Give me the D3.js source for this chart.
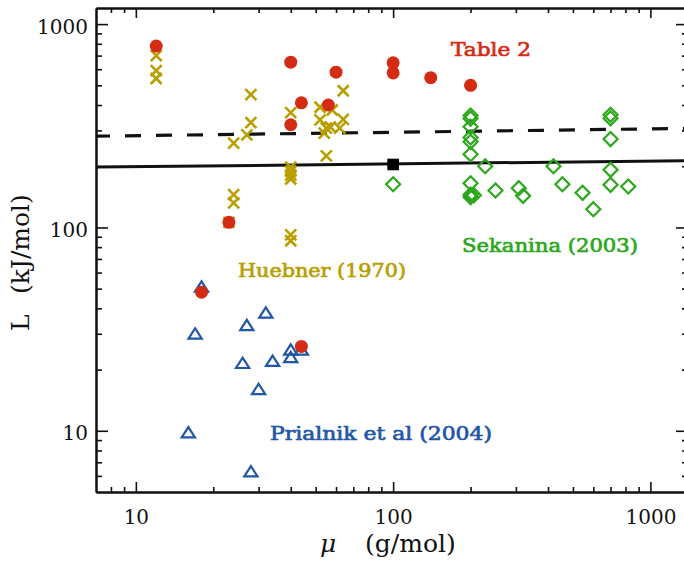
<!DOCTYPE html>
<html>
<head>
<meta charset="utf-8">
<script src="https://cdn.jsdelivr.net/npm/d3@7"></script>
<style>
body { margin: 0; background: #fff; }
svg { display: block; }
</style>
</head>
<body>
<svg id="chart" width="684" height="571"></svg>
<script>
// values: [mu (g/mol), L (kJ/mol)]
const table2 = [[12, 780], [18, 48], [23, 106], [40, 650], [40, 320], [44, 410], [44, 26],
    [56, 400], [60, 580], [100, 645], [100, 575], [140, 545], [200, 500]];

const huebner = [[12, 700], [12, 590], [12, 540], [23, 106], [24, 260], [24, 145], [24, 132],
    [27, 285], [28, 450], [28, 328], [40, 367], [40, 198], [40, 189], [40, 181], [40, 173],
    [40, 92], [40, 86], [52, 390], [52, 338], [54, 291], [55, 308], [55, 225], [57, 312],
    [58, 378], [62, 308], [64, 470], [64, 340]];

const sekanina = [[100, 163], [200, 355], [200, 343], [200, 313], [200, 277], [200, 264],
    [200, 229], [200, 165], [200, 145], [200, 141], [206, 144], [228, 200], [250, 152],
    [308, 156], [320, 143], [420, 200], [455, 163], [545, 148], [600, 123], [700, 358],
    [700, 344], [700, 272], [700, 192], [700, 162], [820, 159]];

const prialnik = [[16, 9.8], [17, 30], [18, 51], [26, 21.5], [27, 33], [28, 6.3], [30, 16],
    [32, 38], [34, 22], [40, 25], [40, 23], [44, 25]];

const solidLine = [[7, 198], [1400, 213]];
const dashedLine = [[7, 281], [1400, 307]];
const squarePoint = [[100, 204]];

const xMajor = [10, 100, 1000];
const xMinor = [8, 9, 20, 30, 40, 50, 60, 70, 80, 90, 200, 300, 400, 500, 600, 700, 800, 900];
const yMajor = [10, 100, 1000];
const yMinor = [6, 7, 8, 9, 20, 30, 40, 50, 60, 70, 80, 90, 200, 300, 400, 500, 600, 700, 800, 900];

const colors = { table2: "#d42c14", huebner: "#b99e00", sekanina: "#2ba81b", prialnik: "#1f56a6" };

const svg = d3.select("#chart");
const plotLeft = 96, plotRight = 688, plotTop = 8, plotBottom = 492;

const x = d3.scaleLog().domain([7, 1400]).range([plotLeft, plotRight]);
const y = d3.scaleLog().domain([5, 1200]).range([plotBottom, plotTop]);

// axes: major + minor ticks on all four sides, pointing inward
function styleAxis(g) {
    g.select(".domain").attr("stroke", "#111").attr("stroke-width", 2);
    g.selectAll(".tick line").attr("stroke", "#111").attr("stroke-width", 1.6);
    g.attr("font-family", "DejaVu Serif").attr("font-size", 20);
    g.selectAll(".tick text").attr("fill", "#111");
}

svg.append("g").attr("transform", `translate(0,${plotBottom})`)
    .call(d3.axisBottom(x).tickValues(xMinor).tickSizeInner(-5).tickSizeOuter(0).tickFormat(""))
    .call(styleAxis);
svg.append("g").attr("transform", `translate(0,${plotBottom})`)
    .call(d3.axisBottom(x).tickValues(xMajor).tickSizeInner(-10).tickSizeOuter(0).tickFormat(d3.format("d")))
    .call(styleAxis)
    .call(g => g.selectAll(".tick text").attr("y", 31.5).attr("dy", null));

svg.append("g").attr("transform", `translate(0,${plotTop})`)
    .call(d3.axisTop(x).tickValues(xMinor).tickSizeInner(-5).tickSizeOuter(0).tickFormat(""))
    .call(styleAxis);
svg.append("g").attr("transform", `translate(0,${plotTop})`)
    .call(d3.axisTop(x).tickValues(xMajor).tickSizeInner(-10).tickSizeOuter(0).tickFormat(""))
    .call(styleAxis);

svg.append("g").attr("transform", `translate(${plotLeft},0)`)
    .call(d3.axisLeft(y).tickValues(yMinor).tickSizeInner(-6).tickSizeOuter(0).tickFormat(""))
    .call(styleAxis);
svg.append("g").attr("transform", `translate(${plotLeft},0)`)
    .call(d3.axisLeft(y).tickValues(yMajor).tickSizeInner(-12).tickSizeOuter(0).tickFormat(d3.format("d")))
    .call(styleAxis)
    .call(g => g.selectAll(".tick text").attr("x", -8).attr("y", 9).attr("dy", null));

svg.append("g").attr("transform", `translate(${plotRight},0)`)
    .call(d3.axisRight(y).tickValues(yMinor).tickSizeInner(-6).tickSizeOuter(0).tickFormat(""))
    .call(styleAxis);
svg.append("g").attr("transform", `translate(${plotRight},0)`)
    .call(d3.axisRight(y).tickValues(yMajor).tickSizeInner(-12).tickSizeOuter(0).tickFormat(""))
    .call(styleAxis);

// fitted lines
const line = d3.line().x(d => x(d[0])).y(d => y(d[1]));
svg.append("path").datum(dashedLine).attr("d", line)
    .attr("fill", "none").attr("stroke", "#111").attr("stroke-width", 3.2)
    .attr("stroke-dasharray", "16,15").attr("stroke-dashoffset", 2);
svg.append("path").datum(solidLine).attr("d", line)
    .attr("fill", "none").attr("stroke", "#111").attr("stroke-width", 3);

// markers
svg.append("g").selectAll("path").data(huebner).enter().append("path")
    .attr("transform", d => `translate(${x(d[0])},${y(d[1])})`)
    .attr("d", "M-5.5,-5.5L5.5,5.5M-5.5,5.5L5.5,-5.5")
    .attr("stroke", colors.huebner).attr("stroke-width", 2.6).attr("fill", "none");

svg.append("g").selectAll("path").data(sekanina).enter().append("path")
    .attr("transform", d => `translate(${x(d[0])},${y(d[1])})`)
    .attr("d", "M0,-7L7,0L0,7L-7,0Z")
    .attr("stroke", colors.sekanina).attr("stroke-width", 2.2).attr("fill", "none");

svg.append("g").selectAll("path").data(prialnik).enter().append("path")
    .attr("transform", d => `translate(${x(d[0])},${y(d[1])})`)
    .attr("d", "M0,-5.5L6.6,4.8L-6.6,4.8Z")
    .attr("stroke", colors.prialnik).attr("stroke-width", 2.2).attr("fill", "none");

svg.append("g").selectAll("circle").data(table2).enter().append("circle")
    .attr("cx", d => x(d[0])).attr("cy", d => y(d[1])).attr("r", 6.5)
    .attr("fill", colors.table2);

svg.append("g").selectAll("rect").data(squarePoint).enter().append("rect")
    .attr("x", d => x(d[0]) - 5.8).attr("y", d => y(d[1]) - 5.8)
    .attr("width", 11.6).attr("height", 11.6).attr("fill", "#000");

// series labels
const labels = [
    { text: "Table 2", x: 451, y: 56, w: 80, c: colors.table2 },
    { text: "Huebner (1970)", x: 238, y: 277, w: 168, c: colors.huebner },
    { text: "Sekanina (2003)", x: 462, y: 252, w: 176, c: colors.sekanina },
    { text: "Prialnik et al (2004)", x: 270, y: 440, w: 222, c: colors.prialnik }
];
svg.append("g").selectAll("text").data(labels).enter().append("text")
    .attr("x", d => d.x).attr("y", d => d.y)
    .attr("textLength", d => d.w).attr("lengthAdjust", "spacingAndGlyphs")
    .attr("font-family", "DejaVu Serif").attr("font-size", 19)
    .attr("fill", d => d.c).attr("stroke", d => d.c).attr("stroke-width", 0.7)
    .text(d => d.text);

// axis titles
const xt = svg.append("text").attr("y", 551.5)
    .attr("font-family", "DejaVu Serif").attr("font-size", 25).attr("fill", "#111");
xt.append("tspan").attr("x", 320).attr("font-style", "italic").text("μ");
xt.append("tspan").attr("x", 365).text("(g/mol)");

const yt = svg.append("text").attr("transform", "translate(28.5,0) rotate(-90)")
    .attr("font-family", "DejaVu Serif").attr("font-size", 25).attr("fill", "#111");
yt.append("tspan").attr("x", -331).attr("y", 0).text("L");
yt.append("tspan").attr("x", -294).attr("y", 0).text("(kJ/mol)");
</script>
</body>
</html>
